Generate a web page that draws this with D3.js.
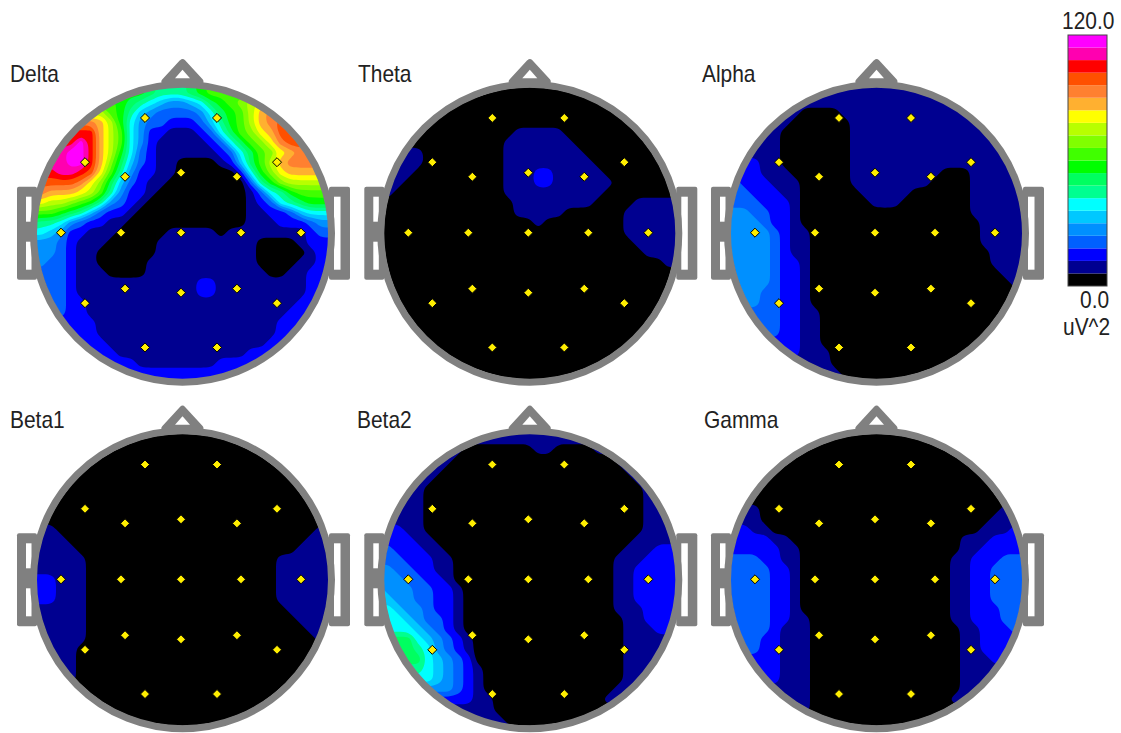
<!DOCTYPE html>
<html lang="en">
<head>
<meta charset="UTF-8">
<title>EEG band power maps</title>
<style>
  body { margin: 0; background: #fff; }
  text { font-family: "Liberation Sans", Arial, sans-serif; font-size: 23px; fill: #222; }
</style>
</head>
<body>
<script src="https://cdnjs.cloudflare.com/ajax/libs/d3/7.8.5/d3.min.js"></script>
<script>
// colour steps of the scale bar, bottom (0 uV^2) to top (120 uV^2)
var barColors = ['#000000', '#000090', '#0000ff', '#0060ff', '#0090ff', '#00c8ff', '#00ffff',
  '#00ff90', '#00ff60', '#00ff00', '#40ff00', '#80ff00', '#b8ff00', '#ffff00',
  '#ffb030', '#ff8030', '#ff5000', '#ff0000', '#ff00b0', '#ff00ff'];
var barMin = 0, barMax = 120;
var barLabels = ['120.0', '0.0', 'uV^2'];

var bandNames = ['Delta', 'Theta', 'Alpha', 'Beta1', 'Beta2', 'Gamma'];

// 10-20 electrodes, head units (-1..1)
var electrodeNames = ['Fp1', 'Fp2', 'F7', 'F3', 'Fz', 'F4', 'F8', 'T3', 'C3', 'Cz', 'C4', 'T4', 'T5', 'P3', 'Pz', 'P4', 'T6', 'O1', 'O2'];
var electrodeX = [-0.24, 0.24, -0.64, -0.373, 0, 0.373, 0.64, -0.8, -0.4, 0, 0.4, 0.8, -0.64, -0.373, 0, 0.373, 0.64, -0.24, 0.24];
var electrodeY = [-0.765, -0.765, -0.47, -0.373, -0.4, -0.373, -0.47, 0, 0, 0, 0, 0, 0.47, 0.373, 0.4, 0.373, 0.47, 0.765, 0.765];

// power on a 31x31 grid, one char per cell = colour step of the bar (base 20)
var deltaGrid = [
  '999999999999877789aaaaaaaaaaaaa',
  '999999999999877789aaaaaaaaaaaaa',
  'aaaaaaaaa98765445689abcdddddddd',
  'cccccccca975433334689acefffffff',
  'fffffffec964332223579acefgggggg',
  'hhhhhhheca64221112368abdegggggg',
  'hhhhhjheca642111112368abdfggggg',
  'iiiijjhec96321111112368abdeffff',
  'iiiijjheb85321100001258acefffff',
  'hhhiihgda742211000000269bdeeeee',
  'gggggfdb85321100000000379bccccc',
  'ffeeedca7422100000000013679aaaa',
  'ddccba9743210000000000123678999',
  'aaa9875322100000000000112235666',
  '8776432211000000000000111222344',
  '6654221110000011111011111111233',
  '4443211100000111111111100001222',
  '4443211000000111111111100000122',
  '4433211000001111111111100001122',
  '3333211100001111111111110011222',
  '3333211111111111122111111111222',
  '3333211111111111122111111111222',
  '3333221111111111111111111112222',
  '3333221111111111111111111122222',
  '2222222111111111111111111222222',
  '2222222111111111111111111222222',
  '2222222211111111111111112222222',
  '2222222221111111111111222222222',
  '2222222222211111111222222222222',
  '2222222222222222222222222222222',
  '2222222222222222222222222222222'
];
var thetaGrid = [
  '0000000000000000000000000000000',
  '0000000000000000000000000000000',
  '0000000000000000000000000000000',
  '0000000000000000000000000000000',
  '0000000000000000000000000000000',
  '0000000000000011111000000000000',
  '0000000000000111111100000000000',
  '1111100000000111111110000000000',
  '1111100000000111111111000000000',
  '1111000000000111221111100000000',
  '1110000000000111221111110000000',
  '1100000000000111111111100000000',
  '0000000000000011111111000011111',
  '0000000000000011111000000111111',
  '0000000000000000100000000111111',
  '0000000000000000000000000111111',
  '0000000000000000000000000011111',
  '0000000000000000000000000001111',
  '0000000000000000000000000000011',
  '0000000000000000000000000000000',
  '0000000000000000000000000000000',
  '0000000000000000000000000000000',
  '0000000000000000000000000000000',
  '0000000000000000000000000000000',
  '0000000000000000000000000000000',
  '0000000000000000000000000000000',
  '0000000000000000000000000000000',
  '0000000000000000000000000000000',
  '0000000000000000000000000000000',
  '0000000000000000000000000000000',
  '0000000000000000000000000000000'
];
var alphaGrid = [
  '1111111111111111111111111111111',
  '1111111111111111111111111111111',
  '1111111111111111111111111111111',
  '1111111100001111111111111111111',
  '1111111000000111111111111111111',
  '1111110000000111111111111111111',
  '1111110000000111111111111111111',
  '1111110000000111111111111111111',
  '2222110000000111111111111111111',
  '2222111000000111111111000111111',
  '3322211100000111111110000111111',
  '3332221100000011111000000111111',
  '3333222100000001110000000111111',
  '4443322100000000000000000111111',
  '4444322100000000000000000011111',
  '4444432110000000000000000011111',
  '4444432110000000000000000011111',
  '4444432110000000000000000001111',
  '4444432210000000000000000001111',
  '4444432210000000000000000000111',
  '4444432210000000000000000000011',
  '4444332210000000000000000000000',
  '4444332210000000000000000000000',
  '3333332211000000000000000000000',
  '3333332211000000000000000000000',
  '3333332211000000000000000000000',
  '2222222211000000000000000000000',
  '2222222211100000000000000000000',
  '1111111111100000000000000000000',
  '1111111111110000000000000000000',
  '1111111111111000000000000000000'
];
var beta1Grid = [
  '0000000000000000000000000000000',
  '0000000000000000000000000000000',
  '0000000000000000000000000000000',
  '0000000000000000000000000000000',
  '0000000000000000000000000000000',
  '0000000000000000000000000000000',
  '0000000000000000000000000000000',
  '0000000000000000000000000000000',
  '0000000000000000000000000000000',
  '0000000000000000000000000000000',
  '1110000000000000000000000000011',
  '1111000000000000000000000000111',
  '1111100000000000000000000001111',
  '1111110000000000000000000111111',
  '1111110000000000000000000111111',
  '2221110000000000000000000111111',
  '2221110000000000000000000111111',
  '2221110000000000000000000111111',
  '1111110000000000000000000011111',
  '1111110000000000000000000001111',
  '1111110000000000000000000000111',
  '1111110000000000000000000000011',
  '1111100000000000000000000000000',
  '1111100000000000000000000000000',
  '1111100000000000000000000000000',
  '1111100000000000000000000000000',
  '0000000000000000000000000000000',
  '0000000000000000000000000000000',
  '0000000000000000000000000000000',
  '0000000000000000000000000000000',
  '0000000000000000000000000000000'
];
var beta2Grid = [
  '1111111111111111111111111111111',
  '1111111111111111111111111111111',
  '1111111110000000110000111111111',
  '1111111100000000000000001111111',
  '1111111000000000000000000111111',
  '1111110000000000000000000011111',
  '1111100000000000000000000001111',
  '1111100000000000000000000001111',
  '1111100000000000000000000001111',
  '1111100000000000000000000001111',
  '2221100000000000000000000001111',
  '2222110000000000000000000011111',
  '3322211000000000000000000111222',
  '3332221100000000000000001112222',
  '4433221100000000000000001122222',
  '4443322100000000000000001122222',
  '5444332210000000000000001122222',
  '5544332210000000000000001122222',
  '6654432210000000000000001112222',
  '6665433210000000000000000112222',
  '6666543210000000000000000111222',
  '8888654321000000000000000111111',
  '8888764321000000000000000111111',
  '8888865432000000000000000111111',
  '7777765432100000000000000111111',
  '6666665432100000000000000111111',
  '4444444432100000000000001111111',
  '2222222222110000000000011111111',
  '1111111111110000000000000000000',
  '1111111111111000000000000000000',
  '1111111111111100000000000000000'
];
var gammaGrid = [
  '0000000000000000000000000000000',
  '0000000000000000000000000000000',
  '0000000000000000000000000000000',
  '0000000000000000000000000000000',
  '0000000000000000000000000000000',
  '0000000000000000000000000000000',
  '0000000000000000000000000000000',
  '0000000000000000000000000000000',
  '1111000000000000000000000000111',
  '1111000000000000000000000001111',
  '2221100000000000000000000011122',
  '2222211000000000000000001112222',
  '2222221100000000000000001122222',
  '3333221100000000000000011222333',
  '3333322100000000000000011223333',
  '3333322100000000000000011223333',
  '3333322100000000000000011223333',
  '3333322100000000000000011223333',
  '3333322100000000000000011222333',
  '3333322110000000000000011222333',
  '3333321110000000000000001122233',
  '3333221110000000000000001122222',
  '3333221110000000000000001122222',
  '2222221110000000000000001112222',
  '2222221110000000000000001111111',
  '2222221110000000000000001111111',
  '1111111110000000000000001111111',
  '1111111110000000000000011111111',
  '1111111110000000000000000000000',
  '0000000000000000000000000000000',
  '0000000000000000000000000000000'
];
var bandGrids = [deltaGrid, thetaGrid, alphaGrid, beta1Grid, beta2Grid, gammaGrid];

var width = 1121, height = 733;
var headCenterX = [181, 528.3, 875, 181, 528.3, 875];
var headCenterY = [232.7, 232.7, 232.7, 579.3, 579.3, 579.3];
var labelX = [10, 358, 702, 10, 357, 704];
var labelY = [82, 82, 82, 428, 428, 428];
var gray = '#808080';
var gridSize = 31;

var svg = d3.select('body').append('svg').attr('width', width).attr('height', height);

var stepSize = (barMax - barMin) / barColors.length;
var thresholds = d3.range(1, barColors.length).map(function (i) { return barMin + i * stepSize; });
var color = d3.scaleThreshold().domain(thresholds).range(barColors);

// grid coords -> px offset from the head centre (cells are 10px)
var gridScale = d3.scaleLinear().domain([0, gridSize]).range([-155, 155]);
var headScale = d3.scaleLinear().domain([-1, 1]).range([-150, 150]);
var contours = d3.contours().size([gridSize, gridSize]).thresholds(thresholds);
var marker = d3.symbol().type(d3.symbolDiamond2).size(52);

// contour rings come out chamfered on a 10px grid, round them off
var ringLine = d3.line()
  .x(function (p) { return gridScale(p[0]); })
  .y(function (p) { return gridScale(p[1]); })
  .curve(d3.curveBasisClosed);

function contourPath(d) {
  var out = '';
  d.coordinates.forEach(function (polygon) {
    polygon.forEach(function (ring) {
      out += ringLine(ring.slice(0, -1));
    });
  });
  return out;
}

function drawHead(g, i) {
  // ears go under the ring
  g.append('rect').attr('x', -164).attr('y', -46).attr('width', 20).attr('height', 93).attr('rx', 2).attr('fill', gray);
  g.append('rect').attr('x', 148).attr('y', -46).attr('width', 21).attr('height', 93).attr('rx', 2).attr('fill', gray);
  g.append('rect').attr('x', -155).attr('y', -36).attr('width', 5.5).attr('height', 25).attr('fill', '#fff');
  g.append('rect').attr('x', -155).attr('y', 9).attr('width', 5.5).attr('height', 28).attr('fill', '#fff');
  g.append('rect').attr('x', 153).attr('y', -36).attr('width', 6.5).attr('height', 73).attr('fill', '#fff');

  // nose
  g.append('path').attr('d', 'M1.5,-170 L-16,-151 L19,-151 Z')
    .attr('fill', gray).attr('stroke', gray).attr('stroke-width', 7).attr('stroke-linejoin', 'round');
  g.append('path').attr('d', 'M1.5,-163 L-6,-154.5 L9,-154.5 Z').attr('fill', '#fff');

  var clipId = 'clip-' + i;
  g.append('clipPath').attr('id', clipId).append('circle').attr('cx', 1.5).attr('cy', 0.5).attr('r', 146);

  g.append('circle').attr('cx', 1.5).attr('cy', 0.5).attr('r', 146).attr('fill', barColors[0]);

  // level cell -> uV^2 at the middle of that colour step
  var values = [];
  bandGrids[i].forEach(function (row) {
    if (row.length !== gridSize) throw new Error(bandNames[i] + ' bad row ' + row);
    row.split('').forEach(function (c) {
      values.push(barMin + (parseInt(c, 20) + 0.5) * stepSize);
    });
  });

  g.append('g').attr('clip-path', 'url(#' + clipId + ')')
    .selectAll('path')
    .data(contours(values))
    .enter()
    .append('path')
    .attr('d', contourPath)
    .attr('fill', function (d) { return color(d.value); });

  g.append('circle').attr('cx', 1.5).attr('cy', 0.5).attr('r', 149)
    .attr('fill', 'none').attr('stroke', gray).attr('stroke-width', 7);

  g.selectAll('.electrode')
    .data(electrodeNames)
    .enter()
    .append('path')
    .attr('class', 'electrode')
    .attr('d', marker)
    .attr('transform', function (d, k) {
      return 'translate(' + headScale(electrodeX[k]) + ',' + headScale(electrodeY[k]) + ')';
    })
    .attr('fill', '#ffee00')
    .attr('stroke', '#000')
    .attr('stroke-width', 1)
    .attr('stroke-linejoin', 'round');
}

// letters in the picture are tall and narrow
function addLabel(x, y, str) {
  svg.append('text').attr('transform', 'translate(' + x + ',' + y + ') scale(0.91,1)').text(str);
}

bandNames.forEach(function (name, i) {
  var g = svg.append('g').attr('transform', 'translate(' + headCenterX[i] + ',' + headCenterY[i] + ')');
  drawHead(g, i);
  addLabel(labelX[i], labelY[i], name);
});

// scale bar
var barScale = d3.scaleLinear().domain([barMin, barMax]).range([286, 35]);
svg.selectAll('.bar-step')
  .data(barColors)
  .enter()
  .append('rect')
  .attr('class', 'bar-step')
  .attr('x', 1068)
  .attr('width', 39)
  .attr('y', function (d, i) { return barScale(barMin + (i + 1) * stepSize); })
  .attr('height', function (d, i) { return barScale(barMin + i * stepSize) - barScale(barMin + (i + 1) * stepSize); })
  .attr('fill', function (d) { return d; });
svg.append('rect').attr('x', 1068).attr('y', barScale(barMax)).attr('width', 39)
  .attr('height', barScale(barMin) - barScale(barMax))
  .attr('fill', 'none').attr('stroke', '#444').attr('stroke-width', 1);

addLabel(1062, barScale(barMax) - 6, barLabels[0]);
addLabel(1080, barScale(barMin) + 22, barLabels[1]);
addLabel(1063, barScale(barMin) + 49, barLabels[2]);
</script>
</body>
</html>
